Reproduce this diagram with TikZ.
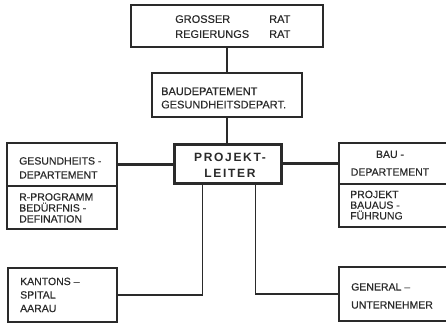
\documentclass[tikz,border=0pt]{standalone}
\usepackage{fontspec}
\setmainfont{Liberation Sans}[FakeBold=0.3]
\newfontfamily\plfont{Liberation Sans}[LetterSpace=14]
\definecolor{ink}{HTML}{2A2A2A}
\begin{document}
\begin{tikzpicture}[x=1pt,y=-1pt,
  box/.style={draw=ink,line width=1.1pt,inner sep=0pt,outer sep=0pt,anchor=north west},
  txt/.style={inner sep=0pt,anchor=north west,align=left,text=ink},
  link/.style={draw=ink,line width=1.1pt},
  thicklink/.style={draw=ink,line width=2.2pt}]
\clip (0,0) rectangle (446,327);
\fill[white] (0,0) rectangle (446,327);
% boxes
\node[box,minimum width=192pt,minimum height=42pt] (top) at (131,5) {};
\node[box,minimum width=150pt,minimum height=44pt] (mid) at (152,73) {};
\node[draw=ink,line width=3pt,inner sep=0pt,outer sep=0pt,minimum width=107pt,minimum height=39.5pt] (pl) at (228,164) {};
\node[box,minimum width=110pt,minimum height=43pt] (gu) at (7,143) {};
\node[box,minimum width=110pt,minimum height=43pt] (gl) at (7,186) {};
\node[box,minimum width=115pt,minimum height=41pt] (bu) at (339,143) {};
\node[box,minimum width=115pt,minimum height=43pt] (bl) at (339,184) {};
\node[box,minimum width=109pt,minimum height=54pt] (ka) at (8,268) {};
\node[box,minimum width=115pt,minimum height=54pt] (ge) at (339,267) {};
% texts
\node[txt,font=\fontsize{11}{15}\selectfont] (toptxt) at (175,15)
  {\makebox[94pt][l]{GROSSER}RAT\\\makebox[94pt][l]{REGIERUNGS}RAT};
\node[txt,font=\fontsize{11}{13.3}\selectfont] (midtxt) at (161,87.3)
  {BAUDEPATEMENT\\GESUNDHEITSDEPART.};
\node[txt,font=\fontsize{10.5}{14}\selectfont] (gutxt) at (19,157)
  {GESUNDHEITS -\\DEPARTEMENT};
\node[txt,font=\fontsize{10.5}{11}\selectfont] (gltxt) at (19,193)
  {R-PROGRAMM\\BEDÜRFNIS -\\DEFINATION};
\node[txt,anchor=north,align=center,font=\fontsize{10.5}{17.7}\selectfont] (butxt) at (390,150.5)
  {BAU -\\DEPARTEMENT};
\node[txt,font=\fontsize{10.5}{10.7}\selectfont] (bltxt) at (350,190.5)
  {PROJEKT\\BAUAUS -\\FÜHRUNG};
\node[txt,anchor=north,align=center,font=\plfont\bfseries\fontsize{12}{16}\selectfont] (pltxt) at (230,153)
  {PROJEKT-\\LEITER};
\node[txt,font=\fontsize{10.5}{13.5}\selectfont] (katxt) at (20,277.5)
  {KANTONS –\\SPITAL\\AARAU};
\node[txt,font=\fontsize{10.5}{18}\selectfont] (getxt) at (351,283)
  {GENERAL –\\UNTERNEHMER};
% connectors
\draw[link] (top.south) -- (mid.north);
\draw[link] (mid.south) -- (mid.south |- pl.north);
\draw[thicklink] (gu.east) -- (gu.east -| pl.west);
\draw[thicklink] (bu.west) -- (bu.west -| pl.east);
\coordinate (pla) at ([xshift=28pt]pl.south west);
\coordinate (plb) at ([xshift=-26pt]pl.south east);
\draw[link] (pla) |- (ka.east);
\draw[link] (plb) |- (ge.west);
\end{tikzpicture}
\end{document}
